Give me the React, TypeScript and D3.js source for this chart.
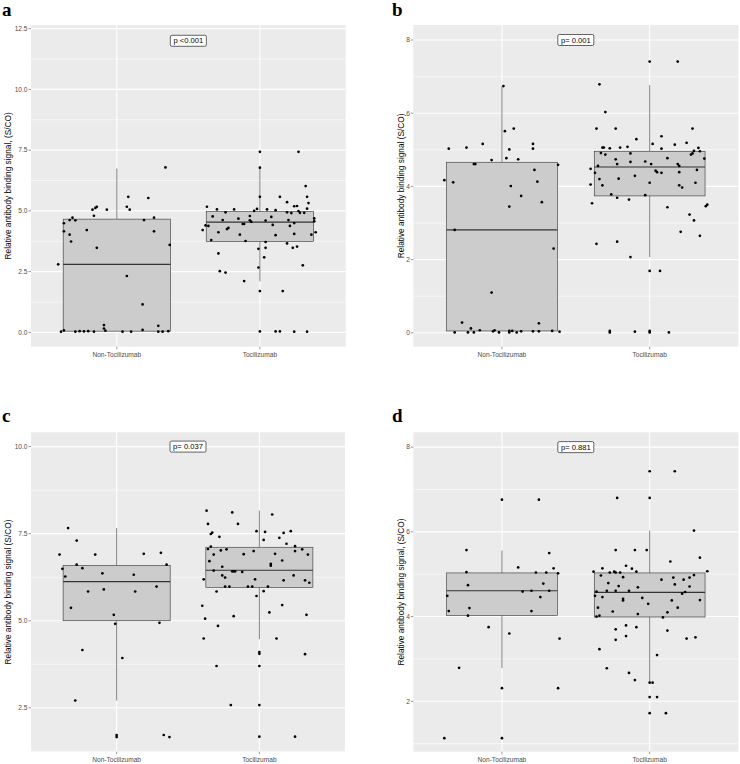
import * as d3 from "d3";

// Groups on the x axis
const groups = ["Non-Tocilizumab", "Tocilizumab"];

// Box stats per group: [lower whisker, Q1, median, Q3, upper whisker]
const boxesA = [[0.05, 0.05, 2.8, 4.66, 6.74], [2.1, 3.74, 4.54, 4.97, 6.78]];
const boxesB = [[0.05, 0.05, 2.81, 4.66, 6.74], [2.07, 3.74, 4.53, 4.96, 6.77]];
const boxesC = [[2.71, 5.0, 6.12, 6.59, 7.66], [4.47, 5.96, 6.45, 7.11, 8.16]];
const boxesD = [[2.78, 4.03, 4.61, 5.03, 5.56], [2.46, 3.99, 4.57, 5.03, 6.03]];

// Points: [jitter (in group widths), value]
const aNon = [[-0.41,2.8],[-0.39,0.03],[-0.37,0.08],[-0.37,4.49],[-0.37,4.16],[-0.33,4.62],[-0.33,4.02],[-0.31,4.72],[-0.32,3.74],[-0.29,4.61],[-0.29,0.03],[-0.26,0.05],[-0.23,0.04],[-0.2,0.05],[-0.21,4.21],[-0.17,5.05],[-0.16,4.8],[-0.16,0.03],[-0.15,5.12],[-0.14,5.17],[-0.14,3.48],[-0.09,0.16],[-0.09,0.3],[-0.08,0.07],[-0.07,5.05],[0.04,0.03],[0.07,2.32],[0.07,5.17],[0.08,5.58],[0.09,5.05],[0.1,0.03],[0.18,1.15],[0.18,0.1],[0.19,4.62],[0.22,5.53],[0.26,4.72],[0.26,4.16],[0.29,0.27],[0.29,0.03],[0.32,0.03],[0.36,0.05],[0.34,6.79],[0.37,3.6]];
const aToci = [[-0.4,4.21],[-0.38,4.4],[-0.36,4.38],[-0.37,5.17],[-0.34,3.8],[-0.33,4.77],[-0.3,5.06],[-0.29,3.25],[-0.29,4.12],[-0.28,2.52],[-0.26,4.62],[-0.24,4.94],[-0.24,2.46],[-0.23,4.25],[-0.22,4.3],[-0.18,5.06],[-0.15,4.68],[-0.14,4.02],[-0.12,4.46],[-0.11,4.46],[-0.11,2.11],[-0.1,3.76],[-0.07,4.61],[-0.06,4.55],[-0.07,4.79],[-0.04,5.0],[-0.02,5.08],[-0.01,3.44],[-0.01,2.67],[0,7.43],[0,6.78],[0,5.58],[0,1.7],[0,0.04],[0.03,3.09],[0.04,4.6],[0.04,3.72],[0.04,3.48],[0.05,5.06],[0.08,4.75],[0.09,4.42],[0.11,4.0],[0.11,5.03],[0.11,0.04],[0.14,0.04],[0.14,5.58],[0.16,1.7],[0.19,5.36],[0.19,3.66],[0.19,4.94],[0.2,4.62],[0.21,4.38],[0.22,4.91],[0.23,3.48],[0.24,4.5],[0.24,5.19],[0.24,4.05],[0.26,3.53],[0.26,5.2],[0.27,7.43],[0.27,4.99],[0.28,4.92],[0.24,0.03],[0.3,2.76],[0.31,4.92],[0.32,6.02],[0.33,5.58],[0.33,0.03],[0.33,5.09],[0.34,5.32],[0.36,4.02],[0.38,4.69],[0.38,4.57],[0.39,4.12]];

const bNon = [[-0.39,4.17],[-0.36,5.03],[-0.33,4.11],[-0.32,2.81],[-0.32,0.01],[-0.27,0.28],[-0.24,5.06],[-0.23,0.01],[-0.21,0.12],[-0.19,0.01],[-0.19,4.61],[-0.18,4.61],[-0.15,0.07],[-0.13,5.16],[-0.07,4.72],[-0.07,1.1],[-0.06,0.04],[-0.05,0.07],[-0.02,0.01],[0.02,5.51],[0.03,4.77],[0.05,0.01],[0.05,0.05],[0.07,0.05],[0.05,3.45],[0.05,5.01],[0.06,4.01],[0.01,6.74],[0.08,5.58],[0.11,4.74],[0.1,0.01],[0.13,0.04],[0.13,3.74],[0.21,5.16],[0.21,5.03],[0.21,0.04],[0.22,4.45],[0.24,4.13],[0.25,0.04],[0.25,0.26],[0.27,3.57],[0.34,0.05],[0.35,2.3],[0.38,4.59],[0.39,0.03]];
const bToci = [[-0.4,4.48],[-0.4,4.05],[-0.39,3.54],[-0.37,4.37],[-0.36,5.58],[-0.36,2.43],[-0.35,4.56],[-0.34,4.2],[-0.34,6.79],[-0.33,4.91],[-0.32,5.06],[-0.31,5.06],[-0.32,4.03],[-0.3,6.03],[-0.3,4.87],[-0.27,0.01],[-0.27,0.05],[-0.27,5.04],[-0.26,3.78],[-0.23,4.74],[-0.23,5.58],[-0.22,2.49],[-0.22,3.69],[-0.22,4.61],[-0.21,4.21],[-0.2,5.06],[-0.15,5.08],[-0.14,3.64],[-0.13,4.67],[-0.13,4.9],[-0.13,2.07],[-0.1,4.29],[-0.1,0.03],[-0.09,5.29],[-0.03,4.68],[-0.03,3.76],[0,7.41],[0,1.69],[0,0.05],[0,0.01],[0,4.1],[0.01,4.61],[0.02,5.16],[0.04,4.43],[0.05,4.39],[0.07,1.69],[0.08,5.37],[0.08,4.37],[0.08,5.03],[0.12,4.77],[0.12,3.43],[0.13,0.01],[0.17,5.14],[0.19,7.41],[0.19,4.61],[0.2,4.56],[0.2,4.39],[0.2,4.03],[0.22,3.97],[0.21,2.76],[0.25,5.19],[0.27,3.23],[0.28,4.87],[0.29,5.58],[0.29,4.9],[0.3,3.07],[0.3,4.97],[0.31,4.1],[0.32,4.45],[0.33,5.05],[0.34,4.96],[0.34,2.65],[0.37,4.76],[0.38,3.46],[0.39,3.5]];

const cNon = [[-0.4,6.9],[-0.38,6.49],[-0.36,6.27],[-0.34,7.66],[-0.32,5.37],[-0.28,7.3],[-0.29,2.71],[-0.28,6.61],[-0.24,6.51],[-0.24,4.16],[-0.2,5.84],[-0.15,6.9],[-0.1,6.36],[-0.09,5.9],[-0.02,5.17],[-0.01,4.91],[0,1.72],[0,1.66],[0.04,3.93],[0.12,6.32],[0.13,5.84],[0.19,6.92],[0.28,5.98],[0.3,4.94],[0.31,6.95],[0.33,1.72],[0.35,6.61],[0.37,1.66]];
const cToci = [[-0.4,5.43],[-0.39,6.19],[-0.39,4.49],[-0.38,5.06],[-0.37,8.16],[-0.36,7.78],[-0.36,7.06],[-0.35,6.71],[-0.34,7.13],[-0.34,7.49],[-0.33,7.53],[-0.32,6.9],[-0.32,6.44],[-0.3,3.7],[-0.3,5.84],[-0.29,4.85],[-0.28,7.41],[-0.27,7.02],[-0.26,6.55],[-0.26,6.3],[-0.24,6.24],[-0.24,5.98],[-0.23,7.05],[-0.21,5.98],[-0.2,2.58],[-0.19,8.11],[-0.19,6.42],[-0.18,6.42],[-0.18,5.13],[-0.17,6.42],[-0.15,7.78],[-0.12,6.4],[-0.11,6.91],[-0.08,5.98],[-0.05,5.98],[-0.04,7.0],[-0.03,6.19],[-0.02,5.71],[-0.02,7.57],[0,4.05],[0,4.1],[0,3.7],[0,2.58],[0,1.67],[0.03,7.32],[0.03,5.85],[0.04,7.55],[0.06,5.98],[0.07,5.24],[0.08,6.58],[0.08,6.63],[0.09,8.05],[0.11,6.92],[0.12,4.49],[0.14,7.38],[0.16,6.73],[0.16,5.45],[0.17,7.52],[0.17,6.16],[0.19,7.21],[0.22,7.57],[0.24,6.3],[0.25,1.67],[0.25,7.14],[0.25,7.0],[0.3,7.05],[0.32,6.16],[0.32,4.04],[0.33,5.17],[0.34,6.9],[0.35,6.09]];

const dNon = [[-0.39,1.13],[-0.37,4.49],[-0.36,4.13],[-0.29,2.79],[-0.24,5.57],[-0.24,5.05],[-0.23,4.74],[-0.23,4.02],[-0.22,4.2],[-0.09,3.75],[0,6.76],[0,2.31],[0,1.13],[0.05,3.6],[0.11,5.16],[0.14,4.59],[0.2,4.61],[0.2,4.13],[0.23,5.04],[0.25,6.76],[0.26,4.46],[0.28,4.78],[0.3,5.04],[0.32,5.5],[0.32,4.61],[0.35,5.14],[0.38,5.02],[0.39,3.48],[0.38,2.31]];
const dToci = [[-0.38,5.06],[-0.37,4.49],[-0.36,4.0],[-0.36,4.59],[-0.35,4.21],[-0.34,3.23],[-0.34,4.02],[-0.33,4.97],[-0.32,5.14],[-0.32,4.46],[-0.29,4.61],[-0.29,2.78],[-0.28,4.79],[-0.27,5.04],[-0.25,4.12],[-0.24,5.06],[-0.23,5.57],[-0.23,3.45],[-0.23,3.7],[-0.23,5.04],[-0.23,4.61],[-0.22,6.8],[-0.21,4.72],[-0.2,5.04],[-0.18,4.38],[-0.18,4.42],[-0.18,4.93],[-0.16,3.79],[-0.16,3.54],[-0.16,5.2],[-0.14,4.61],[-0.14,2.67],[-0.12,5.13],[-0.1,5.57],[-0.1,2.5],[-0.09,3.75],[-0.09,5.06],[-0.08,4.69],[-0.08,4.06],[-0.05,4.44],[-0.02,5.57],[-0.01,4.3],[0,7.43],[0,6.8],[0,2.44],[0.02,2.44],[0,2.1],[0,1.72],[0.05,2.1],[0.05,3.09],[0.08,4.87],[0.09,3.98],[0.11,1.72],[0.12,3.67],[0.12,4.1],[0.14,5.3],[0.15,4.38],[0.16,4.92],[0.17,7.43],[0.17,4.76],[0.19,4.21],[0.22,4.54],[0.23,4.87],[0.24,4.58],[0.25,3.48],[0.27,4.92],[0.27,4.71],[0.3,6.03],[0.3,4.98],[0.31,3.51],[0.34,5.39],[0.34,4.39],[0.39,5.07]];

// Axis ticks and labels
const ticksA = [0, 2.5, 5, 7.5, 10, 12.5];
const ticksB = [0, 2, 4, 6, 8];
const ticksC = [2.5, 5, 7.5, 10];
const ticksD = [2, 4, 6, 8];
const titleComma = "Relative antibody binding signal, (S/CO)";
const titlePlain = "Relative antibody binding signal (S/CO)";

const panels = [
  { letter: "a", x0: 31, x1: 345.7, y0: 25, y1: 346.7, domain: [-0.59, 12.65], ticks: ticksA, fmt: ".1f", title: titleComma, titleX: 8, p: "p <0.001", pAt: 12, boxes: boxesA, pts: [aNon, aToci], lx: 2, ly: 16 },
  { letter: "b", x0: 413.3, x1: 738.3, y0: 25, y1: 346.7, domain: [-0.38, 8.41], ticks: ticksB, fmt: "d", title: titlePlain, titleX: 401.5, p: "p= 0.001", pAt: 8, boxes: boxesB, pts: [bNon, bToci], lx: 392, ly: 16 },
  { letter: "c", x0: 31, x1: 345, y0: 432.3, y1: 751.7, domain: [1.24, 10.41], ticks: ticksC, fmt: ".1f", title: titlePlain, titleX: 8, p: "p= 0.037", pAt: 10, boxes: boxesC, pts: [cNon, cToci], lx: 2, ly: 422 },
  { letter: "d", x0: 413.3, x1: 738.3, y0: 432.3, y1: 751.7, domain: [0.81, 8.35], ticks: ticksD, fmt: "d", title: titleComma, titleX: 401.5, p: "p= 0.881", pAt: 8, boxes: boxesD, pts: [dNon, dToci], lx: 392, ly: 422 },
];

const sans = "Liberation Sans, Arial, sans-serif";

function Panel({ cfg }: { cfg: any }) {
  const x = d3.scalePoint<string>().domain(groups).range([cfg.x0, cfg.x1]).padding(0.6);
  const step = x.step();
  const y = d3.scaleLinear().domain(cfg.domain).range([cfg.y1, cfg.y0]);
  const minor = cfg.ticks.slice(0, -1).map((t: number, i: number) => (t + cfg.ticks[i + 1]) / 2);
  const d0 = cfg.ticks[0] - (cfg.ticks[1] - cfg.ticks[0]) / 2;
  const dN = cfg.ticks[cfg.ticks.length - 1] + (cfg.ticks[1] - cfg.ticks[0]) / 2;
  [d0, dN].forEach((m) => { if (m > cfg.domain[0] && m < cfg.domain[1]) minor.push(m); });
  const fmt = d3.format(cfg.fmt);
  const boxW = step * 0.75;
  const px = x(groups[0])! / 2 + x(groups[1])! / 2;
  const py = y(cfg.pAt);
  const pw = 36, ph = 11;

  return (
    <g>
      <text x={cfg.lx} y={cfg.ly} fontFamily="Liberation Serif, Times New Roman, serif" fontWeight="bold" fontSize={19}>{cfg.letter}</text>
      <rect x={cfg.x0} y={cfg.y0} width={cfg.x1 - cfg.x0} height={cfg.y1 - cfg.y0} fill="#EBEBEB" />
      {minor.map((t: number) => (
        <line key={"m" + t} x1={cfg.x0} x2={cfg.x1} y1={y(t)} y2={y(t)} stroke="#fff" strokeWidth={0.55} />
      ))}
      {cfg.ticks.map((t: number) => (
        <line key={"g" + t} x1={cfg.x0} x2={cfg.x1} y1={y(t)} y2={y(t)} stroke="#fff" strokeWidth={1.1} />
      ))}
      {groups.map((g) => (
        <line key={"v" + g} x1={x(g)} x2={x(g)} y1={cfg.y0} y2={cfg.y1} stroke="#fff" strokeWidth={1.1} />
      ))}
      {cfg.boxes.map((b: number[], i: number) => {
        const cx = x(groups[i])!;
        return (
          <g key={"b" + i}>
            <line x1={cx} x2={cx} y1={y(b[0])} y2={y(b[1])} stroke="#333" strokeWidth={0.6} />
            <line x1={cx} x2={cx} y1={y(b[3])} y2={y(b[4])} stroke="#333" strokeWidth={0.6} />
            <rect x={cx - boxW / 2} y={y(b[3])} width={boxW} height={y(b[1]) - y(b[3])} fill="#CCCCCC" stroke="#333" strokeWidth={0.6} />
            <line x1={cx - boxW / 2} x2={cx + boxW / 2} y1={y(b[2])} y2={y(b[2])} stroke="#333" strokeWidth={1.2} />
          </g>
        );
      })}
      {cfg.pts.map((set: number[][], i: number) =>
        set.map((p, j) => (
          <circle key={"p" + i + "-" + j} cx={x(groups[i])! + p[0] * step} cy={y(p[1])} r={1.35} fill="#000" />
        ))
      )}
      <rect x={px - pw / 2} y={py - ph / 2} width={pw} height={ph} rx={1.5} fill="#fff" stroke="#000" strokeWidth={0.6} />
      <text x={px} y={py} dy="0.35em" textAnchor="middle" fontFamily={sans} fontSize={7.6} fill="#000">{cfg.p}</text>
      {cfg.ticks.map((t: number) => (
        <g key={"t" + t}>
          <line x1={cfg.x0 - 2.5} x2={cfg.x0} y1={y(t)} y2={y(t)} stroke="#333" strokeWidth={0.5} />
          <text x={cfg.x0 - 3.5} y={y(t)} dy="0.35em" textAnchor="end" fontFamily={sans} fontSize={6.6} fill="#4D4D4D">{fmt(t)}</text>
        </g>
      ))}
      {groups.map((g) => (
        <g key={"x" + g}>
          <line x1={x(g)} x2={x(g)} y1={cfg.y1} y2={cfg.y1 + 2.5} stroke="#333" strokeWidth={0.5} />
          <text x={x(g)} y={cfg.y1 + 10} textAnchor="middle" fontFamily={sans} fontSize={6.6} fill="#4D4D4D">{g}</text>
        </g>
      ))}
      <text transform={`translate(${cfg.titleX},${(cfg.y0 + cfg.y1) / 2}) rotate(-90)`} dy="0.35em" textAnchor="middle" fontFamily={sans} fontSize={8.3} fill="#000">{cfg.title}</text>
    </g>
  );
}

export default function App() {
  return (
    <svg width={740} height={764} style={{ position: "absolute", left: 0, top: 0, background: "#fff" }}>
      <rect width={740} height={764} fill="#fff" />
      {panels.map((p) => (
        <Panel key={p.letter} cfg={p} />
      ))}
    </svg>
  );
}
